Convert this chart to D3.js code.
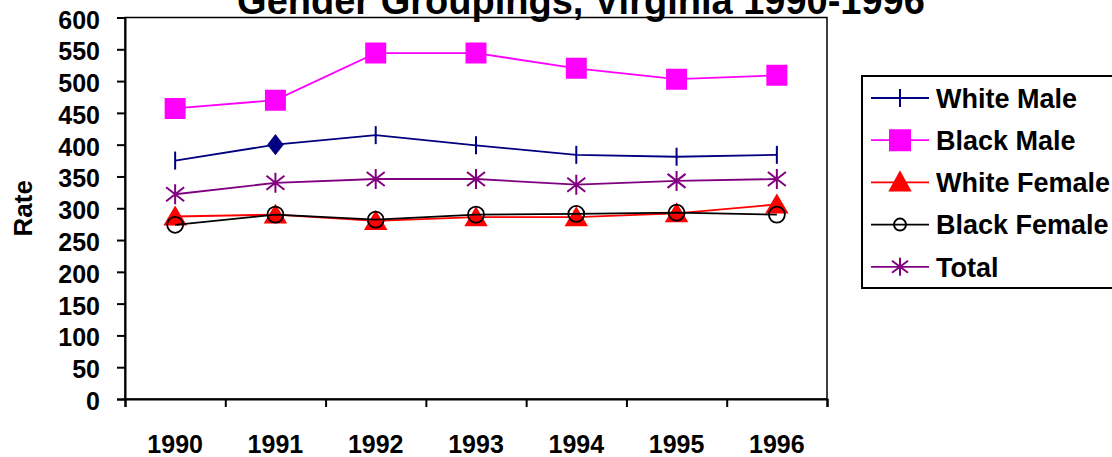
<!DOCTYPE html>
<html>
<head>
<meta charset="utf-8">
<script src="https://cdn.jsdelivr.net/npm/d3@7"></script>
<style>
  html, body { margin: 0; padding: 0; background: #fff; }
  svg { display: block; font-family: Arial, "Liberation Sans", sans-serif; font-weight: bold; }
</style>
</head>
<body>
<div id="chart"></div>
<script>
// chart data
const years = ["1990", "1991", "1992", "1993", "1994", "1995", "1996"];
const whiteMale = [375, 400, 415, 399, 384, 381, 384];
const blackMale = [457, 470, 544, 544, 520, 503, 509];
const whiteFemale = [287, 290, 280, 286, 286, 292, 306];
const blackFemale = [274, 290, 282, 290, 291, 293, 290];
const total = [322, 340, 346, 346, 337, 343, 346];
const yTicks = [0, 50, 100, 150, 200, 250, 300, 350, 400, 450, 500, 550, 600];
const diamondYear = "1991"; // the one White Male point drawn as a diamond

const width = 1112, height = 457;
const plot = { left: 125, right: 827, top: 17.5, bottom: 399 };

const svg = d3.select("#chart").append("svg")
    .attr("width", width)
    .attr("height", height);

const x = d3.scaleBand()
    .domain(years)
    .range([plot.left, plot.right]);

const xEdge = d3.scaleLinear()
    .domain([0, years.length])
    .range([plot.left, plot.right]);

const y = d3.scaleLinear()
    .domain([0, 600])
    .range([plot.bottom, plot.top]);

const cx = d => x(d) + x.bandwidth() / 2;

// marker shapes
const markers = {
    bar: () => "M0,-9V9",
    square: () => d3.symbol(d3.symbolSquare, 361)(),
    triangle: () => "M0,-9L10,8L-10,8Z",
    circle: () => d3.symbol(d3.symbolCircle, 201)(),
    diamond: () => "M0,-9L7,0L0,9L-7,0Z",
    star: () => "M0,-10V10M-9,-7L9,7M-9,7L9,-7"
};

const series = [
    { name: "White Male", values: whiteMale, color: "#000080", marker: "bar", fill: "none" },
    { name: "Black Male", values: blackMale, color: "#ff00ff", marker: "square", fill: "#ff00ff" },
    { name: "White Female", values: whiteFemale, color: "#ff0000", marker: "triangle", fill: "#ff0000" },
    { name: "Black Female", values: blackFemale, color: "#000000", marker: "circle", fill: "none" },
    { name: "Total", values: total, color: "#800080", marker: "star", fill: "none" }
];

// plot frame
svg.append("rect")
    .attr("x", plot.left)
    .attr("y", plot.top)
    .attr("width", plot.right - plot.left)
    .attr("height", plot.bottom - plot.top)
    .attr("fill", "none")
    .attr("stroke", "#000")
    .attr("stroke-width", 1.5);

// y axis
const yAxis = svg.append("g")
    .attr("transform", `translate(${plot.left},0)`)
    .call(d3.axisLeft(y).tickValues(yTicks).tickSize(8).tickPadding(17));
yAxis.select(".domain").attr("stroke-width", 2);
yAxis.selectAll(".tick line").attr("stroke-width", 2);
yAxis.selectAll("text")
    .style("font-size", "25px")
    .style("font-weight", "bold")
    .attr("dy", "0.42em")
    .attr("fill", "#000");

// x axis: ticks at the band edges, labels under the bands
const xAxis = svg.append("g")
    .attr("transform", `translate(0,${plot.bottom})`)
    .call(d3.axisBottom(xEdge).tickValues(d3.range(years.length + 1)).tickFormat("").tickSize(8));
xAxis.select(".domain").attr("stroke-width", 2);
xAxis.selectAll(".tick line").attr("stroke-width", 2);

const xLabels = svg.append("g")
    .attr("transform", `translate(0,${plot.bottom})`)
    .call(d3.axisBottom(x).tickSize(0));
xLabels.select(".domain").remove();
xLabels.selectAll("text")
    .attr("y", 45)
    .attr("dy", "0.36em")
    .style("font-size", "25px")
    .style("font-weight", "bold")
    .attr("fill", "#000");

// axis title
svg.append("text")
    .attr("transform", `translate(32,${(plot.top + plot.bottom) / 2}) rotate(-90)`)
    .attr("text-anchor", "middle")
    .style("font-size", "26px")
    .text("Rate");

// chart title (top of it runs off the picture, as in the source)
svg.append("text")
    .attr("x", 581)
    .attr("y", 14)
    .attr("text-anchor", "middle")
    .style("font-size", "38px")
    .text("Gender Groupings, Virginia 1990-1996");

// series lines and markers, drawn in series order
const line = d3.line()
    .x(d => cx(d.year))
    .y(d => y(d.value));

series.forEach(s => {
    const pts = years.map((yr, i) => ({ year: yr, value: s.values[i] }));
    const g = svg.append("g");
    g.append("path")
        .datum(pts)
        .attr("d", line)
        .attr("fill", "none")
        .attr("stroke", s.color)
        .attr("stroke-width", 1.8);
    g.selectAll(".pt")
        .data(pts)
        .enter()
        .append("path")
        .attr("class", "pt")
        .attr("transform", d => `translate(${cx(d.year)},${y(d.value)})`)
        .attr("d", d => (s.marker === "bar" && d.year === diamondYear) ? markers.diamond() : markers[s.marker]())
        .attr("fill", d => (s.marker === "bar" && d.year === diamondYear) ? s.color : s.fill)
        .attr("stroke", s.color)
        .attr("stroke-width", s.marker === "circle" ? 1.8 : 2);
});

// legend
const legend = svg.append("g");
legend.append("rect")
    .attr("x", 862)
    .attr("y", 76)
    .attr("width", 300)
    .attr("height", 212)
    .attr("fill", "#fff")
    .attr("stroke", "#000")
    .attr("stroke-width", 2);

const legendMarkers = {
    bar: "M0,-9V9",
    square: d3.symbol(d3.symbolSquare, 400)(),
    triangle: "M0,-10L10,8L-10,8Z",
    circle: d3.symbol(d3.symbolCircle, 113)(),
    star: "M0,-9V9M-8,-6L8,6M-8,6L8,-6"
};

const item = legend.selectAll(".item")
    .data(series)
    .enter()
    .append("g")
    .attr("class", "item")
    .attr("transform", (d, i) => `translate(0,${98 + i * 42.2})`);

item.append("line")
    .attr("x1", 871)
    .attr("x2", 929)
    .attr("stroke", d => d.color)
    .attr("stroke-width", 1.8);

item.append("path")
    .attr("transform", "translate(900,0)")
    .attr("d", d => legendMarkers[d.marker])
    .attr("fill", d => d.fill)
    .attr("stroke", d => d.color)
    .attr("stroke-width", 2);

item.append("text")
    .attr("x", 936)
    .attr("dy", "0.36em")
    .style("font-size", "27px")
    .text(d => d.name);
</script>
</body>
</html>
